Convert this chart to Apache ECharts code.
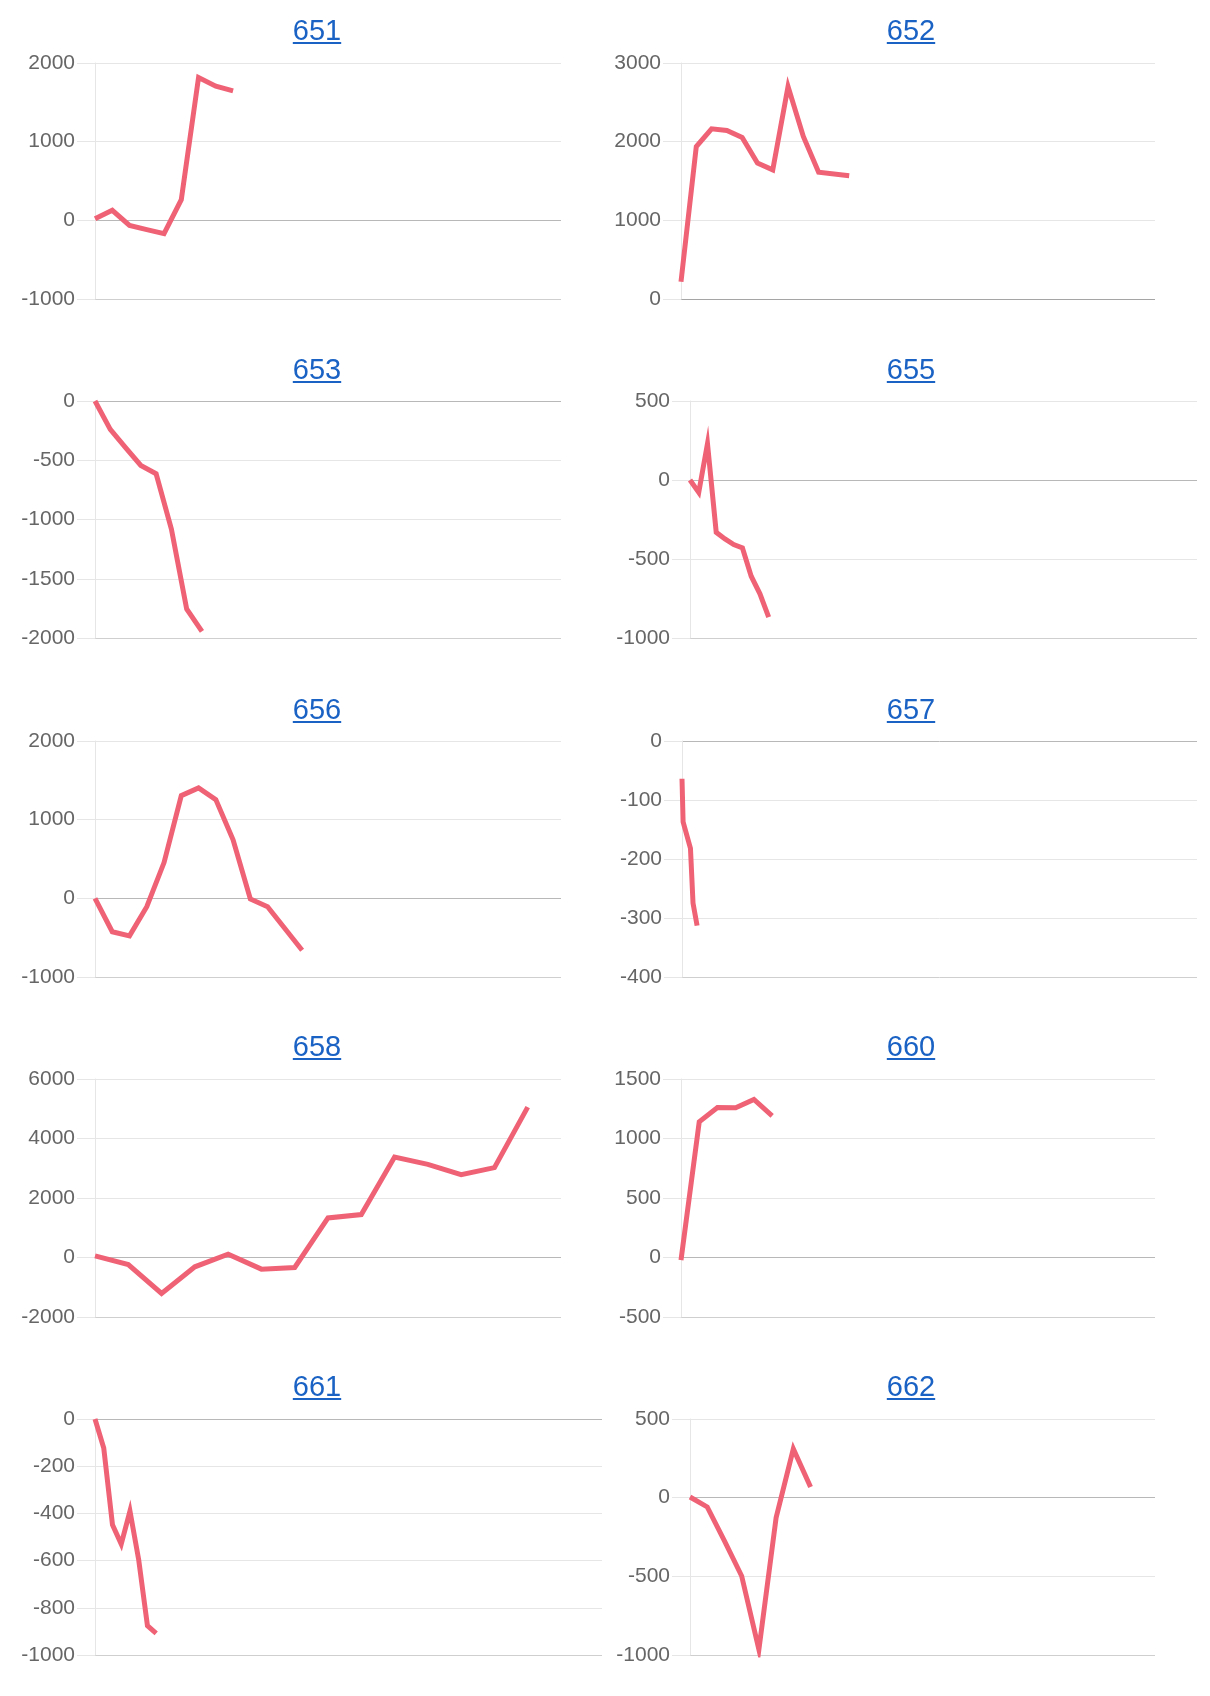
<!DOCTYPE html>
<html>
<head>
<meta charset="utf-8">
<script src="https://cdn.jsdelivr.net/npm/echarts@6/dist/echarts.min.js"></script>
<style>
html,body{margin:0;padding:0;background:#fff;}
#chart{width:1210px;height:1696px;}
</style>
</head>
<body>
<div id="chart"></div>
<script>
// ---------- data ----------
const titles = ['651', '652', '653', '655', '656', '657', '658', '660', '661', '662'];

const y651 = [20, 127, -64, -119, -170, 263, 1816, 1706, 1646];
const y652 = [220, 1938, 2163, 2142, 2053, 1727, 1642, 2700, 2066, 1612, 1566];
const x652 = [0, 1, 2, 3, 4, 5, 6, 7, 8, 9, 11];
const y653 = [0, -239, -394, -544, -614, -1080, -1755, -1944];
const y655 = [0, -78, 230, -331, -373, -409, -430, -609, -720, -868];
const y656 = [0, -425, -477, -106, 455, 1306, 1404, 1255, 745, -9, -106, -383, -660];
const y657 = [-64, -137, -182, -275, -313];
const x657 = [0, 0.3, 2.3, 3, 4.1];
const y658 = [56, -235, -1208, -313, 112, -391, -336, 1331, 1443, 3378, 3132, 2785, 3020, 5056];
const y660 = [-22, 1140, 1260, 1258, 1328, 1190];
const y661 = [0, -123, -448, -530, -390, -597, -876, -908];
const y662 = [4, -59, -275, -498, -965, -127, 310, 68];

const seriesY = [y651, y652, y653, y655, y656, y657, y658, y660, y661, y662];
const seriesX = [null, x652, null, null, null, x657, null, null, null, null];

// hidden time axis length (periods) per chart
const xSpans = [27, 31, 30.5, 58, 27, 140, 14, 26, 58, 27];

// y axis ticks per chart
const yMins  = [-1000, 0, -2000, -1000, -1000, -400, -2000, -500, -1000, -1000];
const yMaxs  = [2000, 3000, 0, 500, 2000, 0, 6000, 1500, 0, 500];
const ySteps = [1000, 1000, 500, 500, 1000, 100, 2000, 500, 200, 500];

// ---------- layout ----------
const gridLefts  = [95, 681, 95, 690, 95, 682, 95, 681, 95, 690];
const gridRights = [561, 1155, 561, 1197, 561, 1197, 561, 1155, 602, 1155];
const rowTops    = [63, 401, 741, 1079, 1419];
const rowHeights = [236, 237, 236, 238, 236];
const titleBaselines = [40, 379, 719, 1056, 1396];
const titleCenters = [317, 911];

const LINE_COLOR = '#ef6276';
const TITLE_COLOR = '#1a62c4';
const FONT = '"Liberation Sans", Arial, Helvetica, sans-serif';
const TITLE_SIZE = 29;
const LABEL_SIZE = 21;

function gray(alpha) {
  const g = Math.round(255 * (1 - alpha));
  return 'rgb(' + g + ',' + g + ',' + g + ')';
}

const measureCtx = document.createElement('canvas').getContext('2d');
measureCtx.font = TITLE_SIZE + 'px ' + FONT;

const grids = [], xAxes = [], yAxes = [], series = [], graphics = [];

titles.forEach((t, i) => {
  const row = Math.floor(i / 2), col = i % 2;
  const top = rowTops[row], h = rowHeights[row];
  grids.push({
    left: gridLefts[i], top: top,
    width: gridRights[i] - gridLefts[i], height: h,
    containLabel: false
  });
  xAxes.push({
    gridIndex: i, type: 'value', min: 0, max: xSpans[i],
    show: true,
    axisLine: {show: false}, axisTick: {show: false},
    axisLabel: {show: false}, splitLine: {show: false}
  });
  // split line colours: zero line darker, bottom border slightly darker
  const colors = [];
  for (let v = yMins[i]; v <= yMaxs[i] + 1e-9; v += ySteps[i]) {
    let a = (v === 0) ? 0.28 : 0.1;
    if (v === yMins[i]) a = 1 - (1 - a) * (1 - 0.1);
    colors.push(gray(a));
  }
  yAxes.push({
    gridIndex: i, type: 'value',
    min: yMins[i], max: yMaxs[i], interval: ySteps[i],
    axisLine: {show: true, lineStyle: {color: gray(0.1), width: 1}},
    axisTick: {show: true, length: 18, lineStyle: {color: gray(0.1), width: 1}},
    axisLabel: {
      show: true, margin: 20, color: '#666',
      fontSize: LABEL_SIZE, fontFamily: FONT,
      formatter: (v) => String(v)
    },
    splitLine: {show: true, lineStyle: {color: colors, width: 1}}
  });
  const ys = seriesY[i], xs = seriesX[i];
  series.push({
    type: 'line', xAxisIndex: i, yAxisIndex: i,
    data: ys.map((v, k) => [xs ? xs[k] : k, v]),
    showSymbol: false, symbol: 'none', smooth: false,
    lineStyle: {color: LINE_COLOR, width: 5, join: 'miter', cap: 'butt'},
    itemStyle: {color: LINE_COLOR},
    silent: true, animation: false, clip: true
  });
  const cx = titleCenters[col], by = titleBaselines[row];
  const w = measureCtx.measureText(t).width;
  graphics.push({
    type: 'text', x: cx, y: by - 8, silent: true,
    style: {
      text: t, fill: TITLE_COLOR,
      font: TITLE_SIZE + 'px ' + FONT,
      textAlign: 'center', textVerticalAlign: 'middle'
    }
  });
  graphics.push({
    type: 'rect', silent: true,
    shape: {x: cx - w / 2, y: by + 2, width: w, height: 2},
    style: {fill: TITLE_COLOR}
  });
});

const chart = echarts.init(document.getElementById('chart'), null, {renderer: 'canvas', width: 1210, height: 1696});
chart.setOption({
  animation: false,
  backgroundColor: '#ffffff',
  grid: grids, xAxis: xAxes, yAxis: yAxes, series: series,
  graphic: graphics
});
</script>
</body>
</html>
